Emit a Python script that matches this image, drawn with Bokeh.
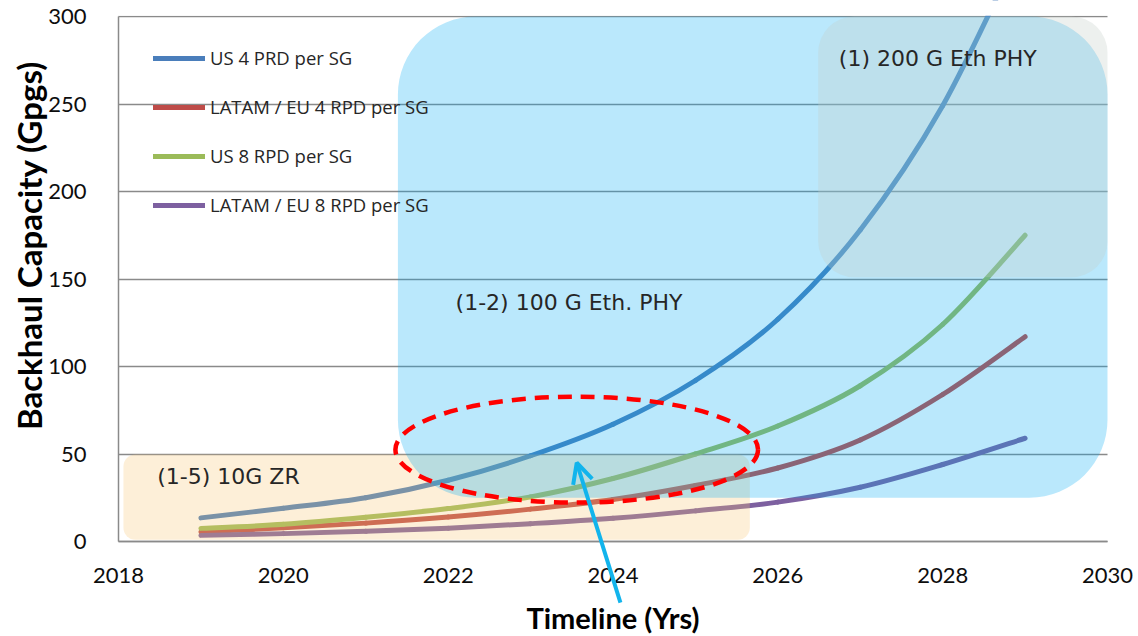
import math
from bokeh.plotting import figure
from bokeh.models import (Range1d, FixedTicker, Legend, LegendItem, BoxAnnotation,
                          Label, Arrow, OpenHead, ColumnDataSource)
from bokeh.embed import file_html
from bokeh.resources import INLINE

# ---------------- data ----------------
years = [2019, 2020, 2021, 2022, 2023, 2024, 2025, 2026, 2027, 2028, 2029]
us_4_rpd = [13.5, 19, 25, 35, 49, 67, 92, 127, 178, 249, 345]
latam_eu_4_rpd = [5.5, 7.8, 10.5, 14, 18.5, 24, 32, 42, 58, 84, 117]
us_8_rpd = [7.5, 9.8, 13.8, 18.8, 25.5, 36, 50, 66, 89, 124, 175]
latam_eu_8_rpd = [3.5, 4.5, 5.8, 7.6, 10.2, 13.3, 17.5, 22.5, 31, 44, 59]

series_names = ["US 4 PRD per SG", "LATAM / EU 4 RPD per SG",
                "US 8 RPD per SG", "LATAM / EU 8 RPD per SG"]
series_values = [us_4_rpd, latam_eu_4_rpd, us_8_rpd, latam_eu_8_rpd]
series_colors = ["#4a7ebb", "#be4b48", "#9bbb59", "#7d60a0"]

x_min, x_max = 2018, 2030
y_min, y_max = 0, 300
x_ticks = [2018, 2020, 2022, 2024, 2026, 2028, 2030]
y_ticks = [0, 50, 100, 150, 200, 250, 300]

x_title = "Timeline (Yrs)"
y_title = "Backhaul Capacity (Gpgs)"

# technology regions
region_labels = ["(1-5) 10G ZR", "(1-2) 100 G Eth. PHY", "(1) 200 G Eth PHY"]
region_left = [2018.06, 2021.39, 2026.49]
region_right = [2025.66, 2030.0, 2030.0]
region_bottom = [1, 25, 151]
region_top = [49.7, 300, 300]
region_label_x = [2018.47, 2022.09, 2026.74]
region_label_y = [37, 136.6, 276]

# highlighted area (ellipse) and pointer arrow
focus_center = (2023.56, 52.5)
focus_size = (4.40, 60.6)
arrow_from = (2024.09, -34.9)
arrow_to = (2023.56, 45)


def smooth_segments(xs, ys):
    """Cubic Bezier control points (Catmull-Rom style) for a smoothed line."""
    n = len(xs)
    out = dict(x0=[], y0=[], x1=[], y1=[], cx0=[], cy0=[], cx1=[], cy1=[])
    for i in range(n - 1):
        xa, ya = xs[max(i - 1, 0)], ys[max(i - 1, 0)]
        xb, yb = xs[i], ys[i]
        xc, yc = xs[i + 1], ys[i + 1]
        xd, yd = xs[min(i + 2, n - 1)], ys[min(i + 2, n - 1)]
        out["x0"].append(xb); out["y0"].append(yb)
        out["x1"].append(xc); out["y1"].append(yc)
        out["cx0"].append(xb + (xc - xa) / 6); out["cy0"].append(yb + (yc - ya) / 6)
        out["cx1"].append(xc - (xd - xb) / 6); out["cy1"].append(yc - (yd - yb) / 6)
    return out


# ---------------- layout (pixels) ----------------
W, H = 1138, 636
PLOT_L, PLOT_R, PLOT_T, PLOT_B = 118, 1107, 16, 541   # where the value area sits
kx = (PLOT_R - PLOT_L) / (x_max - x_min)
ky = (PLOT_B - PLOT_T) / (y_max - y_min)
# the frame covers the whole canvas so that titles / pointer outside the value area are not clipped
xr = Range1d(x_min - PLOT_L / kx, x_max + (W - PLOT_R) / kx)
yr = Range1d(y_min - (H - PLOT_B) / ky, y_max + PLOT_T / ky)


def px_x(px):
    return x_min + (px - PLOT_L) / kx


def px_y(py):
    return y_min + (PLOT_B - py) / ky


p = figure(width=W, height=H, x_range=xr, y_range=yr,
           output_backend="svg", toolbar_location=None,
           min_border_left=0, min_border_right=0, min_border_top=0, min_border_bottom=0)
p.outline_line_color = None
p.background_fill_color = "white"
p.border_fill_color = "white"

renderers = []
for name, vals, col in zip(series_names, series_values, series_colors):
    src = ColumnDataSource(smooth_segments(years, vals))
    r = p.bezier(x0="x0", y0="y0", x1="x1", y1="y1", cx0="cx0", cy0="cy0",
                 cx1="cx1", cy1="cy1", source=src,
                 line_color=col, line_width=5, line_cap="round")
    renderers.append(r)

# hide whatever runs above the top of the value area
p.add_layout(BoxAnnotation(left=x_min, bottom=y_max + 0.5, fill_color="white",
                           fill_alpha=1, line_color=None))

legend = Legend(items=[LegendItem(label=n, renderers=[r]) for n, r in zip(series_names, renderers)],
                location=(153, 419), margin=0, padding=0, spacing=24,
                glyph_width=52, glyph_height=20, label_height=20, label_standoff=5,
                background_fill_alpha=0, border_line_color=None,
                label_text_font="Open Sans", label_text_font_size="18.5px",
                label_text_color="#262626")
p.add_layout(legend)

box_styles = [
    dict(fill_color="#f8c572", fill_alpha=0.28, border_radius=12),
    dict(fill_color="#00a9f4", fill_alpha=0.27, border_radius=78),
    dict(fill_color="#c2cdc7", fill_alpha=0.30, border_radius=36),
]
for i, st in enumerate(box_styles):
    p.add_layout(BoxAnnotation(left=region_left[i], right=region_right[i],
                               bottom=region_bottom[i], top=region_top[i],
                               line_color=None, **st))

for i, txt in enumerate(region_labels):
    p.add_layout(Label(x=region_label_x[i], y=region_label_y[i], text=txt,
                       text_font="DejaVu Sans", text_font_size="22px",
                       text_color="#262626", text_baseline="middle", text_align="left"))

p.ellipse(x=[focus_center[0]], y=[focus_center[1]],
          width=[focus_size[0]], height=[focus_size[1]],
          fill_color=None, line_color="#ff0000", line_width=4.5,
          line_dash="14 9", level="overlay")

p.add_layout(Arrow(x_start=arrow_from[0], y_start=arrow_from[1],
                   x_end=arrow_to[0], y_end=arrow_to[1],
                   line_color="#12b4ec", line_width=4,
                   end=OpenHead(size=20, line_color="#12b4ec", line_width=4),
                   level="overlay"))

# axes, pinned to the value area
xa = p.xaxis[0]
ya = p.yaxis[0]
for ax in (xa, ya):
    ax.axis_line_color = "#8a8a8a"
    ax.axis_line_width = 1.5
    ax.major_tick_line_color = None
    ax.minor_tick_line_color = None
    ax.major_label_text_font = "Lato"
    ax.major_label_text_font_size = "22px"
    ax.major_label_text_color = "#0d0d0d"

xa.ticker = FixedTicker(ticks=x_ticks)
ya.ticker = FixedTicker(ticks=y_ticks)
xa.fixed_location = y_min
ya.fixed_location = x_min
xa.bounds = (x_min, x_max)
ya.bounds = (y_min, y_max)
xa.major_label_standoff = 20
ya.major_label_standoff = 26

# axis titles
p.add_layout(Label(x=(x_min + x_max) / 2, y=px_y(617), text=x_title,
                   text_align="center", text_baseline="middle",
                   text_font="Lato", text_font_style="bold", text_font_size="29px",
                   text_color="#000000"))
p.add_layout(Label(x=px_x(28), y=px_y(245), text=y_title,
                   angle=math.pi / 2, text_align="center", text_baseline="middle",
                   text_font="Lato", text_font_style="bold", text_font_size="33px",
                   text_color="#000000"))

# horizontal grid lines, limited to the value area
p.xgrid.visible = False
p.ygrid.ticker = FixedTicker(ticks=y_ticks)
p.ygrid.bounds = (y_min, y_max)
p.ygrid.cross_bounds = (x_min, x_max)
p.ygrid.grid_line_color = "#8a8a8a"
p.ygrid.grid_line_width = 1.5

open("out.html", "w").write(file_html(p, INLINE))
